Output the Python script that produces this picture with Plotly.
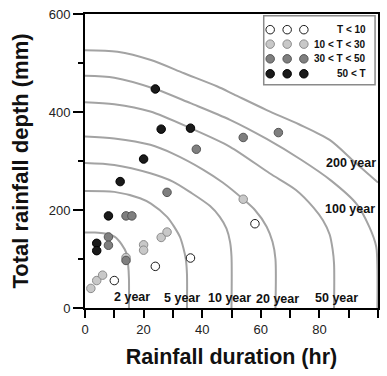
import plotly.graph_objects as go

# ---------------- data ----------------
# Return-period threshold curves (duration hr, depth mm)
curve_names = ["2 year", "5 year", "10 year", "20 year", "50 year", "100 year", "200 year"]
c2_x = [0, 3.4, 6.8, 10.2, 12.5, 14.2, 14.7, 15, 15]
c2_y = [154, 154, 152, 145, 130, 111, 90, 60, 0]
c5_x = [0, 10, 18.8, 22.5, 28, 30.4, 32.4, 33.6, 34.4, 34.8, 34.8]
c5_y = [239, 237, 224, 213, 186, 166, 145, 122, 100, 70, 0]
c10_x = [0, 10, 22.3, 30, 36, 42.7, 46, 48.3, 49.5, 50, 50]
c10_y = [296, 292, 275, 258, 236, 208, 186, 162, 135, 105, 0]
c20_x = [0, 10, 22.3, 30, 40.4, 47, 54, 58, 62, 64, 65, 65]
c20_y = [350, 346, 333, 315, 282, 256, 222, 200, 166, 135, 100, 0]
c50_x = [0, 10, 22.3, 36, 49.5, 63, 72, 78, 81.2, 83.5, 84.5, 85, 85]
c50_y = [420, 416, 401, 367, 329, 275, 241, 205, 179, 150, 120, 90, 0]
c100_x = [0, 10, 24, 36, 49.5, 62, 73.9, 84, 92.6, 97, 99.4, 99.8, 99.8]
c100_y = [474, 470, 447, 418, 384, 345, 302, 260, 213, 166, 125, 80, 0]
c200_x = [0, 11.1, 22.5, 33.8, 45.2, 50.8, 62, 73, 83.5, 92, 100]
c200_y = [526, 523, 506, 479, 452, 436, 404, 375, 343, 298, 256]

curves_x = [c2_x, c5_x, c10_x, c20_x, c50_x, c100_x, c200_x]
curves_y = [c2_y, c5_y, c10_y, c20_y, c50_y, c100_y, c200_y]
label_x = [16.1, 33, 49.2, 65.8, 86, 90.4, 90.7]
label_y = [22, 21, 20, 19, 20, 202, 296]

# Observed events grouped by return period T
white_x = [10, 24, 36, 58]
white_y = [56, 85, 102, 172]
light_x = [2, 4, 6, 14, 20, 20, 26, 28, 54]
light_y = [40, 56, 67, 103, 129, 118, 144, 155, 222]
medium_x = [14, 8, 8, 14, 16, 28, 38, 54, 66]
medium_y = [97, 145, 128, 188, 188, 236, 324, 348, 358]
black_x = [4, 4, 8, 12, 20, 26, 36, 24]
black_y = [132, 117, 188, 258, 304, 365, 367, 447]

group_labels = ["T < 10", "10 < T < 30", "30 < T < 50", "50 < T"]

x_tickvals = [0, 20, 40, 60, 80, 100]
x_minor = [10, 30, 50, 70, 90]
y_tickvals = [0, 200, 400, 600]
y_minor = [100, 300, 500]

# ---------------- style ----------------
FONT = "Liberation Sans, Arial, sans-serif"
fills = ["#ffffff", "#c8c8c8", "#7f7f7f", "#1a1a1a"]
edges = ["#1a1a1a", "#8c8c8c", "#555555", "#000000"]
CURVE = "#a3a3a3"
MS = 8.5

fig = go.Figure()

for cx, cy in zip(curves_x, curves_y):
    fig.add_trace(go.Scatter(x=cx, y=cy, mode="lines",
                             line=dict(color=CURVE, width=2, shape="spline", smoothing=0.8),
                             hoverinfo="skip", showlegend=False))

groups = [(white_x, white_y), (light_x, light_y), (medium_x, medium_y), (black_x, black_y)]
for (gx, gy), f, e in zip(groups, fills, edges):
    fig.add_trace(go.Scatter(x=gx, y=gy, mode="markers",
                             marker=dict(size=MS, color=f, line=dict(color=e, width=1)),
                             showlegend=False, cliponaxis=False))

# ---- hand-built legend (three markers per row) ----
leg_x0, leg_x1, leg_y0, leg_y1 = 61.0, 99.0, 455.5, 596.5
row_y = [568, 538.5, 508.5, 478]
col_x = [63.2, 69.0, 74.7]
fig.add_shape(type="rect", xref="x", yref="y", x0=leg_x0, x1=leg_x1, y0=leg_y0, y1=leg_y1,
              line=dict(color="#8a8a8a", width=1.5), fillcolor="white", layer="below")
for ry, f, e, lab in zip(row_y, fills, edges, group_labels):
    fig.add_trace(go.Scatter(x=col_x, y=[ry] * 3, mode="markers",
                             marker=dict(size=MS, color=f, line=dict(color=e, width=1)),
                             showlegend=False, cliponaxis=False))
    fig.add_annotation(x=96.6, y=ry, xref="x", yref="y", text="<b>%s</b>" % lab, showarrow=False,
                       xanchor="right", yanchor="middle",
                       font=dict(family=FONT, size=10, color="#111111"))

for name, lx, ly in zip(curve_names, label_x, label_y):
    fig.add_annotation(x=lx, y=ly, xref="x", yref="y", text="<b>%s</b>" % name,
                       showarrow=False, xanchor="center", yanchor="middle",
                       font=dict(family=FONT, size=12.5, color="#111111"))

fig.update_layout(
    width=387, height=376,
    margin=dict(l=85, r=9, t=14, b=68, autoexpand=False),
    paper_bgcolor="white", plot_bgcolor="white",
    font=dict(family=FONT, color="#222222"),
    showlegend=False,
    xaxis=dict(range=[0, 100], showgrid=False, zeroline=False, automargin=False,
               showline=True, linecolor="black", linewidth=2, mirror=True,
               ticks="outside", tickvals=x_tickvals, ticklen=8, tickwidth=1.5, tickcolor="black",
               minor=dict(tickvals=x_minor, ticks="outside", ticklen=8, tickwidth=1.5, tickcolor="black"),
               tickfont=dict(family=FONT, size=13, color="#222222"),
               title=dict(text="<b>Rainfall duration (hr)</b>", standoff=13,
                          font=dict(family=FONT, size=21.5, color="#111111"))),
    yaxis=dict(range=[0, 600], showgrid=False, zeroline=False, automargin=False,
               showline=True, linecolor="black", linewidth=2, mirror=True,
               ticks="outside", tickvals=y_tickvals, ticklen=10, tickwidth=1.5, tickcolor="black",
               minor=dict(tickvals=y_minor, ticks="outside", ticklen=5, tickwidth=1.5, tickcolor="black"),
               tickfont=dict(family=FONT, size=13, color="#222222"),
               title=dict(text="<b>Total rainfall depth (mm)</b>", standoff=14,
                          font=dict(family=FONT, size=22, color="#111111"))),
)

fig.write_html("out.html")
